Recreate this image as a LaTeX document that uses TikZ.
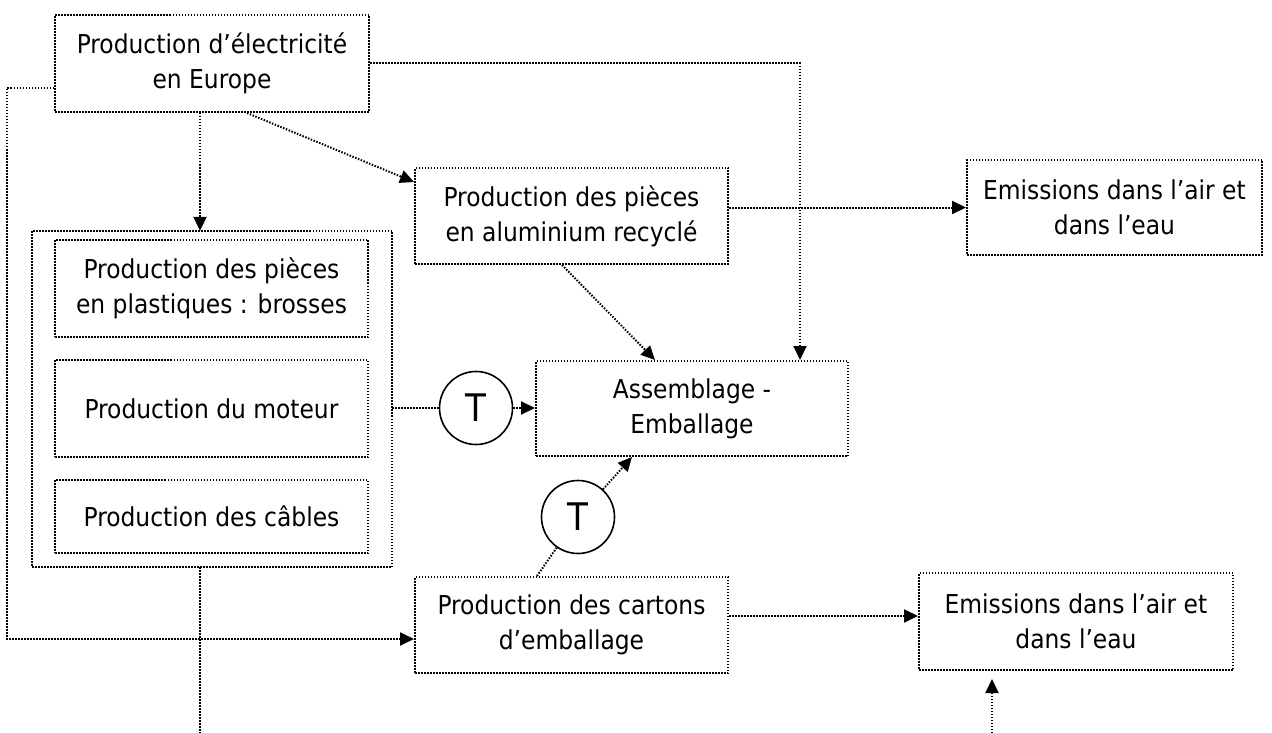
\documentclass[tikz,border=0pt]{standalone}
\usepackage{fontspec}
\setmainfont{DejaVu Sans Condensed}
\usetikzlibrary{arrows.meta,calc}
\begin{document}
\begin{tikzpicture}[x=1pt,y=-1pt,
  dotline/.style={line width=2pt,dash pattern=on 1.5pt off 1.5pt},
  arr/.style={dotline,-{Triangle[length=14pt,width=13pt]}},
  box/.style={dotline,draw,rectangle,inner sep=0pt,align=center,
    font=\fontsize{26}{35}\selectfont},
  tcirc/.style={draw,circle,line width=1.6pt,minimum size=73pt,inner sep=0pt,
    font=\fontsize{38}{38}\selectfont}]
\useasboundingbox (0,0) rectangle (1272,733);

% process boxes
\node[box,minimum width=314pt,minimum height=97pt] (elec) at (212,63.5)
  {Production d’électricité\\en Europe};
\draw[dotline] (32,231) rectangle (392,567);
\node[inner sep=0pt,minimum width=360pt,minimum height=336pt] (grp) at (212,399) {};
\node[box,minimum width=313pt,minimum height=97pt] (brosses) at (211.5,288.5)
  {Production des pièces\\en plastiques : brosses};
\node[box,minimum width=313pt,minimum height=97pt] (moteur) at (211.5,408.5)
  {Production du moteur};
\node[box,minimum width=313pt,minimum height=73pt] (cables) at (211.5,516.5)
  {Production des câbles};
\node[box,minimum width=313pt,minimum height=96pt] (alu) at (571.5,216)
  {Production des pièces\\en aluminium recyclé};
\node[box,minimum width=312pt,minimum height=95pt] (assem) at (692,408.5)
  {Assemblage -\\Emballage};
\node[box,minimum width=295pt,minimum height=95pt] (em1) at (1114.5,207.5)
  {Emissions dans l’air et\\dans l’eau};
\node[box,minimum width=313pt,minimum height=96pt] (cartons) at (571.5,625)
  {Production des cartons\\d’emballage};
\node[box,minimum width=314pt,minimum height=97pt] (em2) at (1076,621.5)
  {Emissions dans l’air et\\dans l’eau};

% transport
\node[tcirc] (t1) at (476,408) {T};
\node[tcirc] (t2) at (578,517) {T};

% guide coordinates for the routed connectors
\coordinate (xg) at (200,0);
\coordinate (xl) at (7,0);
\coordinate (xr) at (800,0);
\coordinate (xd) at (247,0);
\coordinate (xa) at (562,0);
\coordinate (xb) at (655,0);
\coordinate (xc) at (537,0);
\coordinate (xe) at (632,0);
\coordinate (xf) at (992,0);
\coordinate (ybot) at (0,733);
\coordinate (yleft) at (0,88);
\coordinate (ylow) at (0,639);

% connectors
\draw[arr] (xg |- elec.south) -- (xg |- grp.north);
\draw[arr] (xd |- elec.south) -- ($(alu.north west)+(0,15)$);
\draw[arr] (elec.east) -| (xr |- assem.north);
\draw[arr] (elec.west |- yleft) -| (xl |- ylow) -- (cartons.west |- ylow);
\draw[arr] (alu.east |- em1.west) -- (em1.west);
\draw[arr] (xa |- alu.south) -- (xb |- assem.north);
\draw[dotline] (grp.east |- t1) -- (t1.west);
\draw[arr] (t1.east) -- (assem.west |- t1);
\draw[dotline] (xc |- cartons.north) -- (t2);
\draw[arr] (t2) -- (xe |- assem.south);
\draw[arr] ($(cartons.east)+(0,-9)$) -- ($(em2.west)+(0,-5.5)$);
\draw[dotline] (xg |- grp.south) -- (xg |- ybot);
\draw[arr] (xf |- ybot) -- ($(xf |- em2.south)+(0,8)$);
\end{tikzpicture}
\end{document}
